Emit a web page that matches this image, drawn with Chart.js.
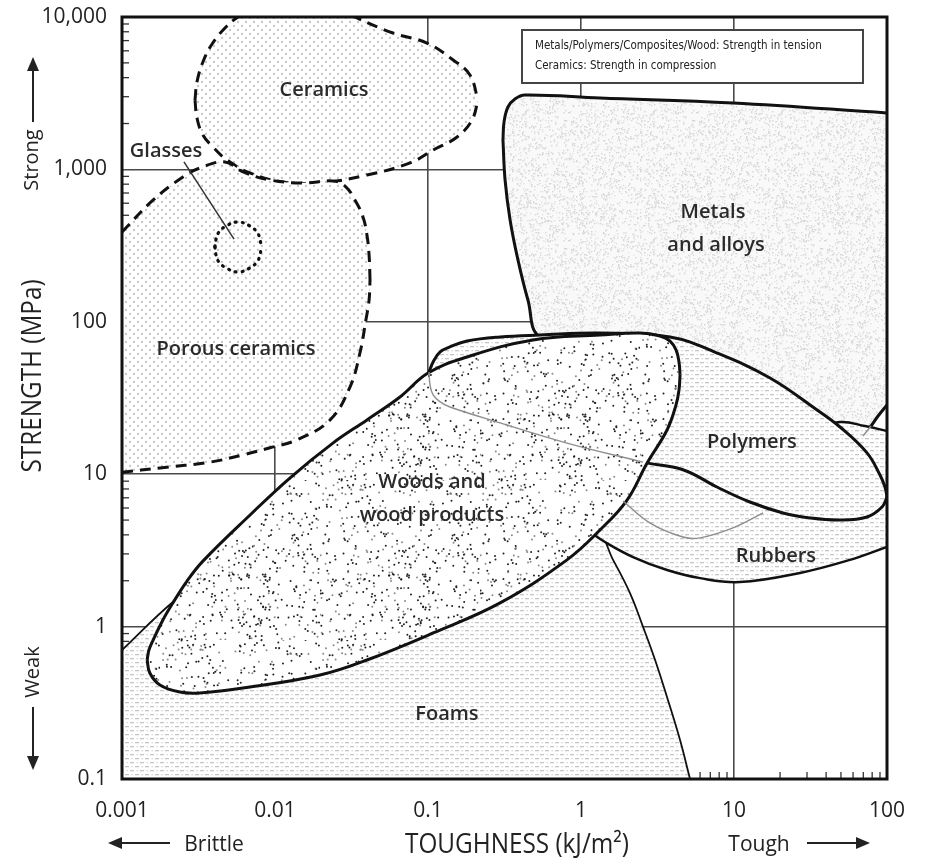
<!DOCTYPE html>
<html><head><meta charset="utf-8">
<script src="https://cdn.jsdelivr.net/npm/chart.js@4.4.1/dist/chart.umd.min.js"></script>
<style>html,body{margin:0;padding:0;background:#fff;}canvas{display:block;}</style>
</head><body>
<canvas id="c" width="933" height="864"></canvas>
<script>
// ---- axis tick labels ----
const xTickLabels = ['0.001', '0.01', '0.1', '1', '10', '100'];
const yTickLabels = ['0.1', '1', '10', '100', '1,000', '10,000'];
const noteLines = ['Metals/Polymers/Composites/Wood: Strength in tension', 'Ceramics: Strength in compression'];

// ---- region outlines: [toughness kJ/m2, strength MPa], lower and upper edges ----
const ceramicsUpper = [[0.003,2850],[0.00309,3746],[0.00338,5067],[0.00388,6650],[0.00471,8470],[0.00573,10000],[0.00798,11990],[0.0229,11990],[0.0333,10000],[0.059,7852],[0.0985,6750],[0.146,5220],[0.188,4164],[0.2123,2850]];
const ceramicsLower = [[0.003,2850],[0.00309,2175],[0.00338,1682],[0.00393,1403],[0.00486,1153],[0.00687,947],[0.0113,826],[0.0197,814],[0.0399,919],[0.0763,1102],[0.108,1340],[0.155,1632],[0.194,2110],[0.2123,2850]];
const porousUpper = [[0.001,388],[0.0016,630],[0.0025,892],[0.00323,1021],[0.00471,1119],[0.00618,962],[0.00928,852],[0.0152,814],[0.0239,839],[0.0287,778],[0.0333,630],[0.0376,487],[0.0399,371],[0.0412,274],[0.0418,188]];
const porousLower = [[0.001,10.3],[0.00177,11.0],[0.00376,12.0],[0.00618,13.4],[0.00928,14.9],[0.0139,16.8],[0.0229,22.7],[0.0309,37.3],[0.0359,62.4],[0.0393,103],[0.0412,139],[0.0418,188]];
const glassesUpper = [[0.00405,310],[0.00412,349],[0.0043,388],[0.00478,425],[0.00573,452],[0.00687,425],[0.00763,388],[0.00798,349],[0.0081,310]];
const glassesLower = [[0.00405,310],[0.00412,274],[0.0043,247],[0.00478,226],[0.00573,212],[0.00687,226],[0.00763,247],[0.00798,274],[0.0081,310]];
const glassesPointer = [[0.00254,1119],[0.0054,349]];
const metalsUpper = [[0.309,1560],[0.314,2046],[0.333,2567],[0.37,2897],[0.43,3078],[1.33,2941],[9.85,2727],[100,2346]];
const metalsLower = [[0.309,1560],[0.319,852],[0.344,466],[0.3875,254],[0.45,139],[0.54,79.5],[1.33,68.4],[6.0,54.5],[20.0,34.6],[42.4,19.5],[57.3,15.3],[69.7,17.8],[78.6,20.7],[87.4,24.1],[100,28.5]];
const polymersUpper = [[0.1015,46.8],[0.108,54.5],[0.12,63.4],[0.139,68.4],[0.18,74.8],[0.296,79.5],[0.54,81.9],[1.33,84.4],[3.82,79.5],[7.74,62.4],[17.2,42.8],[34.9,26.4],[49.3,20.4],[74.0,13.8],[90.0,9.88],[97.0,8.24],[100,7.09]];
const polymersLower = [[0.1015,46.8],[0.1031,38.5],[0.108,33.1],[0.12,29.8],[0.139,27.6],[0.296,21.7],[0.81,16.0],[2.54,12.0],[4.64,10.7],[7.74,8.24],[12.7,6.57],[20.9,5.57],[31.4,5.16],[49.3,5.0],[74.0,5.24],[92.8,6.09],[100,7.09]];
const rubbersUpper = [[1.146,4.18],[1.668,7.3],[2.09,10.3],[3.28,13.4],[6.0,14.4],[14.8,16.8],[31.4,19.5],[49.3,22.0],[71.8,20.7],[100,19.2]];
const rubbersLower = [[1.146,4.18],[1.435,3.59],[2.19,2.86],[3.65,2.35],[6.0,2.08],[10.9,1.96],[27.0,2.25],[57.3,2.74],[100,3.33]];
const rubbersInnerEdge = [[1.88,6.67],[2.83,4.78],[4.64,3.87],[6.0,3.82],[9.85,4.44],[15.5,5.57]];
const woodsUpper = [[0.00146,0.604],[0.0015,0.702],[0.0016,0.817],[0.00185,1.105],[0.00215,1.43],[0.00266,1.99],[0.00338,2.69],[0.00687,5.4],[0.0125,9.44],[0.0239,16.0],[0.0399,22.7],[0.0656,32.1],[0.1,46.1],[0.18,58.8],[0.486,76.0],[1.33,81.9],[2.43,84.4],[3.28,80.7],[3.82,74.8],[4.18,65.4],[4.37,54.5],[4.44,44.8]];
const woodsLower = [[0.00146,0.604],[0.00152,0.496],[0.00177,0.414],[0.00239,0.372],[0.00323,0.367],[0.00687,0.401],[0.0197,0.481],[0.0399,0.604],[0.108,0.908],[0.296,1.43],[0.81,2.74],[1.33,4.3],[2.0,6.77],[2.7,11.8],[3.65,19.5],[4.18,28.5],[4.37,35.7],[4.44,44.8]];
const foamsUpper = [[0.001,0.702],[0.00215,1.45],[0.0042,2.4],[0.0146,2.54],[0.139,3.7],[0.729,4.3],[1.27,4.18],[1.62,2.74],[2.09,1.66],[2.54,1.0],[3.05,0.604],[3.7,0.33],[4.44,0.18],[5.16,0.1]];
const foamsLower = [[0.001,0.1],[5.16,0.1]];

// region names placed at [toughness, strength]
const regionLabels = [
  {text: 'Ceramics', x: 0.0209, y: 3319},
  {text: 'Glasses', x: 0.00194, y: 1320},
  {text: 'Porous ceramics', x: 0.00556, y: 66.3},
  {text: 'Metals', x: 7.29, y: 525},
  {text: 'and alloys', x: 7.63, y: 319},
  {text: 'Polymers', x: 13.1, y: 16.27},
  {text: 'Woods and', x: 0.1062, y: 8.89},
  {text: 'wood products', x: 0.1062, y: 5.4},
  {text: 'Rubbers', x: 18.8, y: 2.906},
  {text: 'Foams', x: 0.133, y: 0.267}
];

// ---- fill textures (decorative) ----
function makePattern(w, h, paint) {
  const c = document.createElement('canvas'); c.width = w; c.height = h;
  const g = c.getContext('2d'); g.fillStyle = '#fff'; g.fillRect(0, 0, w, h); paint(g);
  return g.createPattern(c, 'repeat');
}
function texSeq(a) {
  return function () { a |= 0; a = a + 0x6D2B79F5 | 0; let t = Math.imul(a ^ a >>> 15, 1 | a); t = t + Math.imul(t ^ t >>> 7, 61 | t) ^ t; return ((t ^ t >>> 14) >>> 0) / 4294967296; };
}
const dotPattern = makePattern(8, 8, g => {
  g.fillStyle = '#c6c6c6';
  [[2, 2], [6, 6]].forEach(([a, b]) => { g.beginPath(); g.arc(a, b, 1.15, 0, Math.PI * 2); g.fill(); });
});
const dashPattern = makePattern(10, 8, g => {
  g.fillStyle = '#c6c6c6'; g.fillRect(0, 2, 4, 1.3); g.fillRect(5, 6, 4, 1.3);
  g.fillStyle = '#d2d2d2'; g.fillRect(6.5, 2, 1.3, 1.3); g.fillRect(1.5, 6, 1.3, 1.3);
});
const speckPattern = makePattern(128, 128, g => {
  const h = texSeq(7);
  g.fillStyle = '#f9f9f9'; g.fillRect(0, 0, 128, 128);
  for (let i = 0; i < 1700; i++) { g.fillStyle = i % 2 ? '#d6d6d6' : '#e2e2e2'; g.fillRect(Math.floor(h() * 128), Math.floor(h() * 128), 1.4, 1.4); }
});
const woodPattern = makePattern(160, 160, g => {
  const h = texSeq(42);
  for (let i = 0; i < 540; i++) {
    g.fillStyle = i % 3 === 0 ? '#8a8a8a' : '#222';
    g.beginPath(); g.arc(h() * 160, h() * 160, 1.0, 0, Math.PI * 2); g.fill();
  }
});

// ---- datasets ----
const P = a => a.map(([x, y]) => ({x, y}));
const datasets = [];
function edge(label, pts, o) {
  return Object.assign({label, data: P(pts), borderColor: '#111', borderWidth: 3, fill: false, tension: 0.4, pointRadius: 0, pointHoverRadius: 0}, o || {});
}
function region(name, lower, upper, o, bg, lowerOpt) {
  datasets.push(edge(name + ' (lower edge)', lower, Object.assign({}, o, lowerOpt || {})));
  datasets.push(edge(name, upper, Object.assign({}, o, {fill: '-1', backgroundColor: bg})));
}
const hidden = {borderColor: '#8e8e8e', borderWidth: 1.4};
datasets.push(edge('Polymers (hidden edge)', polymersLower.slice(0, 8), hidden));
datasets.push(edge('Rubbers (hidden edge)', rubbersInnerEdge, hidden));
datasets.push(edge('Metals (hidden edge)', metalsLower.slice(11, 13), hidden));
datasets.push(edge('Glasses pointer', glassesPointer, {borderColor: '#333', borderWidth: 1.5, tension: 0}));
region('Woods and wood products', woodsLower, woodsUpper, {borderWidth: 3}, woodPattern);
region('Glasses', glassesLower, glassesUpper, {borderWidth: 3.2, borderDash: [1, 6], borderCapStyle: 'round'}, dotPattern);
region('Porous ceramics', porousLower, porousUpper, {borderWidth: 3, borderDash: [11, 7]}, dotPattern);
region('Ceramics', ceramicsLower, ceramicsUpper, {borderWidth: 3, borderDash: [11, 7]}, dotPattern);
region('Polymers', polymersLower, polymersUpper, {borderWidth: 3}, dashPattern);
region('Rubbers', rubbersLower, rubbersUpper, {borderWidth: 2.5}, dashPattern);
region('Metals and alloys', metalsLower, metalsUpper, {borderWidth: 3}, speckPattern);
region('Foams', foamsLower, foamsUpper, {borderWidth: 1.8}, dashPattern, {borderWidth: 0});

const isDecade = v => v > 0 && Math.abs(Math.log10(v) - Math.round(Math.log10(v))) < 1e-6;
const decadeLabel = (v, labels, first) => isDecade(v) ? (labels[Math.round(Math.log10(v)) - first] || '') : '';
const FONT = "'Open Sans', 'DejaVu Sans', sans-serif";
Chart.defaults.font.family = FONT;

function arrow(ctx, x1, y1, x2, y2) {
  const ang = Math.atan2(y2 - y1, x2 - x1), L = 14, W = 6;
  ctx.beginPath(); ctx.moveTo(x1, y1); ctx.lineTo(x2 - Math.cos(ang) * L * 0.8, y2 - Math.sin(ang) * L * 0.8); ctx.stroke();
  ctx.beginPath(); ctx.moveTo(x2, y2);
  ctx.lineTo(x2 - Math.cos(ang) * L - Math.sin(ang) * W, y2 - Math.sin(ang) * L + Math.cos(ang) * W);
  ctx.lineTo(x2 - Math.cos(ang) * L + Math.sin(ang) * W, y2 - Math.sin(ang) * L - Math.cos(ang) * W);
  ctx.closePath(); ctx.fill();
}
function text(ctx, t, x, y, font, rot, sx) {
  ctx.save(); ctx.translate(x, y); if (rot) ctx.rotate(rot); if (sx) ctx.scale(sx, 1);
  ctx.font = font; ctx.textAlign = 'center'; ctx.textBaseline = 'middle'; ctx.fillText(t, 0, 0); ctx.restore();
}

const decor = {
  id: 'decor',
  beforeDatasetsDraw(chart) {
    const {ctx, chartArea: a, scales: {x, y}} = chart;
    ctx.save(); ctx.strokeStyle = '#333'; ctx.lineWidth = 1.3;
    for (let e = -1; e < 4; e++) for (let m = 2; m < 10; m++) {
      const py = y.getPixelForValue(m * Math.pow(10, e));
      ctx.beginPath(); ctx.moveTo(a.left, py); ctx.lineTo(a.left + 7, py); ctx.stroke();
    }
    for (let e = -3; e < 2; e++) for (let m = 2; m < 10; m++) {
      const px = x.getPixelForValue(m * Math.pow(10, e));
      ctx.beginPath(); ctx.moveTo(px, a.bottom); ctx.lineTo(px, a.bottom - 7); ctx.stroke();
    }
    ctx.restore();
  },
  afterDatasetsDraw(chart) {
    const {ctx, chartArea: a, scales: {x, y}} = chart;
    ctx.save();
    // note box
    const bx = a.left + 400, by = a.top + 13, bw = 341, bh = 53;
    ctx.fillStyle = '#fff'; ctx.fillRect(bx, by, bw, bh);
    ctx.strokeStyle = '#444'; ctx.lineWidth = 2; ctx.strokeRect(bx, by, bw, bh);
    ctx.fillStyle = '#222'; ctx.font = "11.5px 'DejaVu Sans Condensed', 'DejaVu Sans', sans-serif";
    ctx.textAlign = 'left'; ctx.textBaseline = 'middle';
    noteLines.forEach((t, i) => ctx.fillText(t, bx + 13, by + 16 + i * 20));
    // region names
    ctx.fillStyle = '#2a2a2a';
    regionLabels.forEach(l => text(ctx, l.text, x.getPixelForValue(l.x), y.getPixelForValue(l.y), "600 20px " + FONT));
    // frame
    ctx.strokeStyle = '#111'; ctx.lineWidth = 3;
    ctx.strokeRect(a.left, a.top, a.right - a.left, a.bottom - a.top);
    // axis titles and arrows
    ctx.fillStyle = '#222'; ctx.strokeStyle = '#222'; ctx.lineWidth = 2;
    text(ctx, 'TOUGHNESS (kJ/m²)', 517, 845, "500 27px " + FONT, 0, 0.9);
    text(ctx, 'Brittle', 214, 845, "500 21px " + FONT);
    text(ctx, 'Tough', 759, 845, "500 21px " + FONT);
    arrow(ctx, 170, 843, 108, 843);
    arrow(ctx, 807, 843, 870, 843);
    text(ctx, 'STRENGTH (MPa)', 33, 376, "500 27px " + FONT, -Math.PI / 2, 0.9);
    text(ctx, 'Strong', 32, 160, "500 20px " + FONT, -Math.PI / 2);
    text(ctx, 'Weak', 33, 672, "500 20px " + FONT, -Math.PI / 2);
    arrow(ctx, 33, 122, 33, 57);
    arrow(ctx, 33, 707, 33, 770);
    ctx.restore();
  }
};

const gridColor = c => (c.tick && isDecade(c.tick.value)) ? '#4a4a4a' : 'rgba(0,0,0,0)';
new Chart(document.getElementById('c'), {
  type: 'line',
  data: {datasets},
  options: {
    responsive: false, animation: false, events: [],
    layout: {padding: {top: 17, right: 46, left: 0, bottom: 0}},
    plugins: {legend: {display: false}, tooltip: {enabled: false}, title: {display: false}},
    elements: {point: {radius: 0, hoverRadius: 0, hitRadius: 0}},
    scales: {
      x: {
        type: 'logarithmic', min: 0.001, max: 100, position: 'bottom',
        afterFit(s) { s.height = 85; s.paddingLeft = 0; s.paddingRight = 0; },
        border: {display: false},
        grid: {color: gridColor, lineWidth: 1.6, drawTicks: false},
        ticks: {autoSkip: false, maxRotation: 0, padding: 19, color: '#222', font: {size: 21, weight: '500'},
          callback: v => decadeLabel(v, xTickLabels, -3)}
      },
      y: {
        type: 'logarithmic', min: 0.1, max: 10000, position: 'left',
        afterFit(s) { s.width = 122; s.paddingTop = 0; s.paddingBottom = 0; },
        border: {display: false},
        grid: {color: gridColor, lineWidth: 1.6, drawTicks: false},
        ticks: {autoSkip: false, padding: 15, color: '#222', font: {size: 21, weight: '500'},
          callback: v => decadeLabel(v, yTickLabels, -1)}
      }
    }
  },
  plugins: [decor]
});
</script>
</body></html>
